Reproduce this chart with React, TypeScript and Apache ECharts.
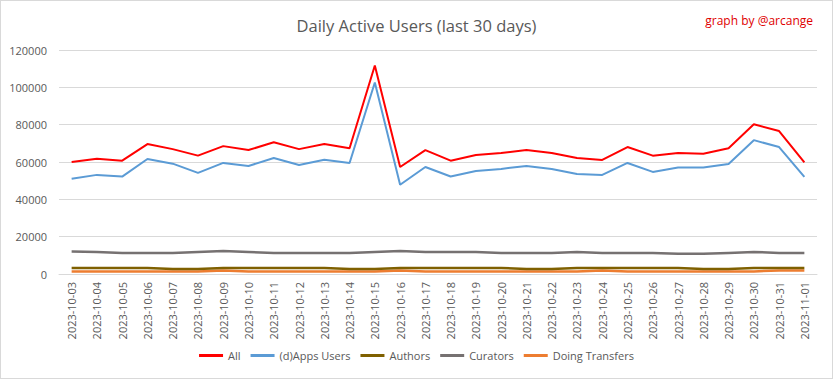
import React, { useEffect, useRef } from "react";
import * as echarts from "echarts";

const dates = [
  "2023-10-03", "2023-10-04", "2023-10-05", "2023-10-06", "2023-10-07", "2023-10-08",
  "2023-10-09", "2023-10-10", "2023-10-11", "2023-10-12", "2023-10-13", "2023-10-14",
  "2023-10-15", "2023-10-16", "2023-10-17", "2023-10-18", "2023-10-19", "2023-10-20",
  "2023-10-21", "2023-10-22", "2023-10-23", "2023-10-24", "2023-10-25", "2023-10-26",
  "2023-10-27", "2023-10-28", "2023-10-29", "2023-10-30", "2023-10-31", "2023-11-01",
];

const allUsers = [
  60000, 61800, 60700, 69600, 66900, 63400, 68500, 66400, 70600, 66900, 69600, 67400,
  111700, 57300, 66400, 60700, 63700, 64800, 66400, 64800, 62100, 61100, 68000, 63400,
  64800, 64400, 67400, 80200, 76600, 59800,
];
const appsUsers = [
  51000, 53100, 52200, 61600, 59100, 54200, 59500, 57900, 62100, 58400, 61200, 59500,
  102600, 47800, 57300, 52200, 55200, 56300, 57900, 56300, 53600, 53100, 59500, 54700,
  57000, 57000, 58900, 71700, 68000, 52000,
];
const authors = [
  3200, 3200, 3200, 3200, 2700, 2700, 3200, 3200, 3200, 3200, 3200, 2700,
  2700, 3200, 3200, 3200, 3200, 3200, 2700, 2700, 3200, 3200, 3200, 3200,
  3200, 2700, 2700, 3200, 3200, 3200,
];
const curators = [
  12000, 11800, 11300, 11300, 11300, 11800, 12300, 11800, 11300, 11300, 11300, 11300,
  11800, 12300, 11800, 11800, 11800, 11300, 11300, 11300, 11800, 11300, 11300, 11300,
  10800, 10800, 11300, 11800, 11300, 11300,
];
const transfers = [
  1400, 1400, 1400, 1400, 1400, 1400, 1900, 1400, 1400, 1400, 1400, 1400,
  1400, 1900, 1400, 1400, 1400, 1400, 1400, 1400, 1400, 1900, 1400, 1400,
  1400, 1400, 1400, 1400, 1900, 1900,
];

const seriesNames = ["All", "(d)Apps Users", "Authors", "Curators", "Doing Transfers"];
const seriesColors = ["#FF0000", "#5B9BD5", "#7F6000", "#767171", "#ED7D31"];
const seriesData = [allUsers, appsUsers, authors, curators, transfers];
const seriesWidths = [2, 2, 2.5, 2.5, 2.5];
const drawOrder = [4, 3, 2, 1, 0];

export default function App() {
  const ref = useRef<HTMLDivElement>(null);
  useEffect(() => {
    document.body.style.margin = "0";
    const chart = echarts.init(ref.current!, undefined, { renderer: "svg" });
    const font = "'Open Sans', sans-serif";
    chart.setOption({
      animation: false,
      backgroundColor: "#ffffff",
      title: [
        {
          text: "Daily Active Users (last 30 days)",
          left: "center",
          top: 11,
          textStyle: { color: "#595959", fontSize: 16.5, fontWeight: "normal", fontFamily: font },
        },
        {
          text: "graph by @arcange",
          right: 14,
          top: 8,
          textStyle: { color: "#E00000", fontSize: 12, fontWeight: "normal", fontFamily: font },
        },
      ],
      legend: {
        data: seriesNames,
        bottom: 12,
        left: "center",
        itemWidth: 24,
        itemHeight: 3,
        itemGap: 10,
        icon: "rect",
        textStyle: { color: "#595959", fontSize: 11, fontFamily: font },
      },
      grid: { left: 58, right: 15, top: 49, bottom: 104, containLabel: false },
      xAxis: {
        type: "category",
        data: dates,
        boundaryGap: true,
        axisLine: { show: true, lineStyle: { color: "#D9D9D9" } },
        axisTick: { show: false },
        axisLabel: {
          rotate: 90,
          interval: 0,
          color: "#595959",
          fontSize: 11,
          margin: 8,
          fontFamily: font,
        },
      },
      yAxis: {
        type: "value",
        min: 0,
        max: 120000,
        interval: 20000,
        axisLine: { show: false },
        axisTick: { show: false },
        splitLine: { lineStyle: { color: "#D9D9D9" } },
        axisLabel: {
          color: "#595959",
          fontSize: 11,
          margin: 12,
          fontFamily: font,
          formatter: (v: number) => String(v),
        },
      },
      series: drawOrder.map((i) => ({
        name: seriesNames[i],
        type: "line",
        data: seriesData[i],
        symbol: "none",
        color: seriesColors[i],
        lineStyle: { color: seriesColors[i], width: seriesWidths[i] },
      })),
    });
    return () => chart.dispose();
  }, []);
  return (
    <div
      ref={ref}
      style={{
        position: "fixed",
        left: 0,
        top: 0,
        width: 833,
        height: 379,
        boxSizing: "border-box",
        border: "1px solid #D9D9D9",
      }}
    />
  );
}
